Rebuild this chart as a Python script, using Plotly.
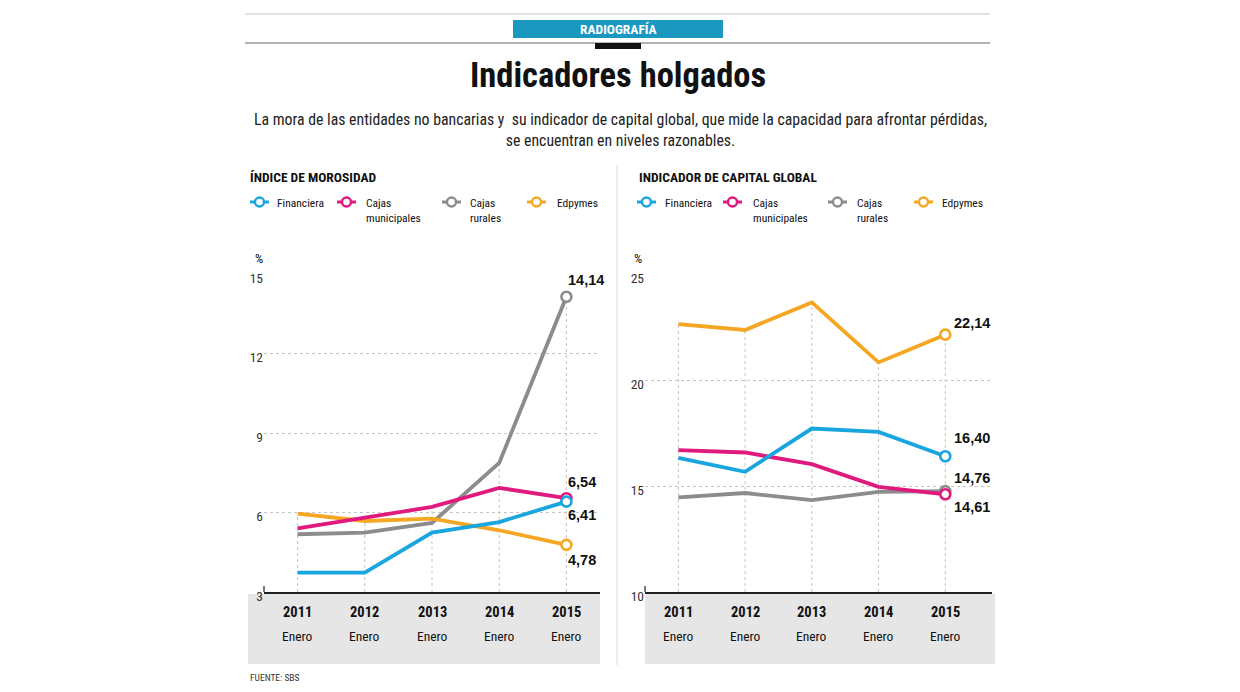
import plotly.graph_objects as go

W, H = 1240, 692
PAGE_PAD = 8  # the page body margin pushes the figure 8px right/down

YEARS = ["2011", "2012", "2013", "2014", "2015"]
MONTH = "Enero"
SERIES = ["Financiera", "Cajas municipales", "Cajas rurales", "Edpymes"]
LEGEND_TEXT = ["Financiera", "Cajas<br>municipales", "Cajas<br>rurales", "Edpymes"]

# Índice de morosidad (%)
mora_financiera = [3.73, 3.73, 5.24, 5.64, 6.41]
mora_municipales = [5.40, 5.81, 6.21, 6.93, 6.54]
mora_rurales = [5.18, 5.24, 5.61, 7.87, 14.14]
mora_edpymes = [5.96, 5.68, 5.77, 5.33, 4.78]

# Indicador de capital global (%)
cap_financiera = [16.33, 15.67, 17.71, 17.55, 16.40]
cap_municipales = [16.69, 16.58, 16.03, 14.96, 14.61]
cap_rurales = [14.46, 14.67, 14.33, 14.72, 14.76]
cap_edpymes = [22.64, 22.36, 23.66, 20.83, 22.14]

MORA_TICKS = [3, 6, 9, 12, 15]
CAP_TICKS = [10, 15, 20, 25]

COLORS = {"Financiera": "#19a6df", "Cajas municipales": "#e0197e",
          "Cajas rurales": "#8c8c8c", "Edpymes": "#f5a623"}
DRAW_ORDER = ["Cajas rurales", "Edpymes", "Cajas municipales", "Financiera"]

NARROW = "Roboto Condensed, Noto Sans Condensed, Liberation Sans Narrow, Roboto, sans-serif"
BOLD = "Liberation Sans, Arial, sans-serif"

# end-label offsets (px) per panel
MORA_OFF = {"Financiera": (0, -13), "Cajas municipales": (0, 16),
            "Cajas rurales": (0, 17), "Edpymes": (0, -15)}
CAP_OFF = {"Financiera": (7, 18), "Cajas municipales": (7, -13),
           "Cajas rurales": (7, 13), "Edpymes": (7, 12)}


def px(x):
    return (x - PAGE_PAD) / W


def py(y):
    return 1 - (y - PAGE_PAD) / H


def fmt(v):
    return f"{v:.2f}".replace(".", ",")


def note(x, y, text, size, family=NARROW, color="#111", xanchor="center", yanchor="middle", **kw):
    return dict(x=px(x), y=py(y), xref="paper", yref="paper", text=text, showarrow=False,
                xanchor=xanchor, yanchor=yanchor, font=dict(family=family, size=size, color=color), **kw)


fig = go.Figure()
shapes, annots = [], []

panels = [
    dict(xa="x", ya="y", data=dict(zip(SERIES, [mora_financiera, mora_municipales, mora_rurales, mora_edpymes])),
         ymin=3, off=MORA_OFF, band=(248, 600), title="ÍNDICE DE MOROSIDAD", tx=248,
         leg_x=[250, 337, 442, 527], leg_tx=[275, 364, 468, 555], pct=253),
    dict(xa="x2", ya="y2", data=dict(zip(SERIES, [cap_financiera, cap_municipales, cap_rurales, cap_edpymes])),
         ymin=10, off=CAP_OFF, band=(645, 995), title="INDICADOR DE CAPITAL GLOBAL", tx=637,
         leg_x=[637, 723, 828, 914], leg_tx=[663, 751, 855, 940], pct=632),
]

xs = list(range(len(YEARS)))
for p in panels:
    # dotted drop lines from the highest value to the axis
    for i in xs:
        top = max(p["data"][s][i] for s in SERIES)
        fig.add_trace(go.Scatter(x=[i, i], y=[p["ymin"], top], mode="lines", xaxis=p["xa"], yaxis=p["ya"],
                                 line=dict(color="#c4c4c4", width=1, dash="dot"),
                                 hoverinfo="skip", showlegend=False))
    for s in DRAW_ORDER:
        vals = p["data"][s]
        fig.add_trace(go.Scatter(x=xs, y=vals, mode="lines", xaxis=p["xa"], yaxis=p["ya"],
                                 line=dict(color=COLORS[s], width=3.8), name=s, showlegend=False))
    for s in DRAW_ORDER:
        vals = p["data"][s]
        fig.add_trace(go.Scatter(x=[xs[-1]], y=[vals[-1]], mode="markers", xaxis=p["xa"], yaxis=p["ya"],
                                 marker=dict(size=10, color="white", line=dict(color=COLORS[s], width=2.6)),
                                 name=s, showlegend=False))
        dx, dy = p["off"][s]
        annots.append(dict(x=xs[-1], y=vals[-1], xref=p["xa"], yref=p["ya"], text=f"<b>{fmt(vals[-1])}</b>",
                           showarrow=False, xanchor="left", yanchor="middle", xshift=dx, yshift=dy,
                           font=dict(family=BOLD, size=14.5, color="#111")))
    # grey band with category labels
    b0, b1 = p["band"]
    shapes.append(dict(type="rect", xref="paper", yref="paper", x0=px(b0), x1=px(b1), y0=py(664), y1=py(594),
                       fillcolor="#e6e6e6", line=dict(width=0), layer="below"))
    for i, yr in enumerate(YEARS):
        annots.append(dict(x=i, y=py(612), xref=p["xa"], yref="paper", text=f"<b>{yr}</b>", showarrow=False,
                           xanchor="center", yanchor="middle",
                           font=dict(family=NARROW, size=14.5, color="#111")))
        annots.append(dict(x=i, y=py(636), xref=p["xa"], yref="paper", text=MONTH, showarrow=False,
                           xanchor="center", yanchor="middle",
                           font=dict(family=NARROW, size=13.5, color="#111")))
    # little upturn at the left end of the axis
    shapes.append(dict(type="line", xref=p["xa"] + " domain", yref=p["ya"], x0=0, x1=0,
                       ysizemode="pixel", yanchor=p["ymin"], y0=0, y1=6, line=dict(color="#222", width=1.2)))
    # section heading, % label
    annots.append(note(p["tx"], 177, f"<b>{p['title']}</b>", 13.5, xanchor="left"))
    annots.append(note(p["pct"], 258, "%", 13, xanchor="left"))
    # legend
    for s, lt, lx, tx in zip(SERIES, LEGEND_TEXT, p["leg_x"], p["leg_tx"]):
        shapes.append(dict(type="line", xref="paper", yref="paper", x0=px(lx), x1=px(lx + 19),
                           y0=py(202), y1=py(202), line=dict(color=COLORS[s], width=3)))
        cx = lx + 9.5
        shapes.append(dict(type="circle", xref="paper", yref="paper", x0=px(cx - 4.5), x1=px(cx + 4.5),
                           y0=py(206.5), y1=py(197.5), fillcolor="white", line=dict(color=COLORS[s], width=2.4)))
        annots.append(note(tx, 194, lt, 11.5, xanchor="left", yanchor="top", align="left"))

# header decorations
shapes += [
    dict(type="line", xref="paper", yref="paper", x0=px(245), x1=px(990), y0=py(14), y1=py(14),
         line=dict(color="#e2e2e2", width=2)),
    dict(type="rect", xref="paper", yref="paper", x0=px(513), x1=px(723), y0=py(38), y1=py(20),
         fillcolor="#1b98c0", line=dict(width=0)),
    dict(type="line", xref="paper", yref="paper", x0=px(245), x1=px(990), y0=py(43), y1=py(43),
         line=dict(color="#666", width=1)),
    dict(type="rect", xref="paper", yref="paper", x0=px(595), x1=px(641), y0=py(49), y1=py(43),
         fillcolor="#111", line=dict(width=0)),
    dict(type="line", xref="paper", yref="paper", x0=px(617), x1=px(617), y0=py(165), y1=py(665),
         line=dict(color="#dcdcdc", width=1)),
]
annots += [
    note(618, 29, "<b>RADIOGRAFÍA</b>", 13.5, color="white"),
    note(618, 75, "<b>Indicadores holgados</b>", 34.5),
    note(620, 130, "La mora de las entidades no bancarias y  su indicador de capital global, "
                   "que mide la capacidad para afrontar pérdidas,<br>se encuentran en niveles razonables.",
         15.8, color="#222", align="center"),
    note(248, 677, "FUENTE: SBS", 9.5, color="#333", xanchor="left"),
]

yax = dict(showgrid=True, griddash="dot", gridcolor="#c4c4c4", gridwidth=1, zeroline=False,
           showline=False, ticks="", tickfont=dict(family=NARROW, size=13.5, color="#333"),
           ticklabelshift=4, fixedrange=True, automargin=False)
xax = dict(showgrid=False, zeroline=False, showline=True, linecolor="#222", linewidth=1.5,
           showticklabels=False, ticks="", fixedrange=True, automargin=False)

fig.update_layout(
    width=W, height=H, margin=dict(l=0, r=0, t=0, b=0, pad=0), autosize=False,
    paper_bgcolor="white", plot_bgcolor="white", showlegend=False,
    xaxis=dict(xax, domain=[px(264), px(600)], range=[-0.5, 4.5]),
    yaxis=dict(yax, domain=[py(592), py(274)], range=[3, 15], tickvals=MORA_TICKS),
    xaxis2=dict(xax, domain=[px(645), px(992)], range=[-0.5, 4.7], anchor="y2"),
    yaxis2=dict(yax, domain=[py(592), py(274)], range=[10, 25], tickvals=CAP_TICKS, anchor="x2"),
    shapes=shapes, annotations=annots,
)

fig.write_html("out.html")
